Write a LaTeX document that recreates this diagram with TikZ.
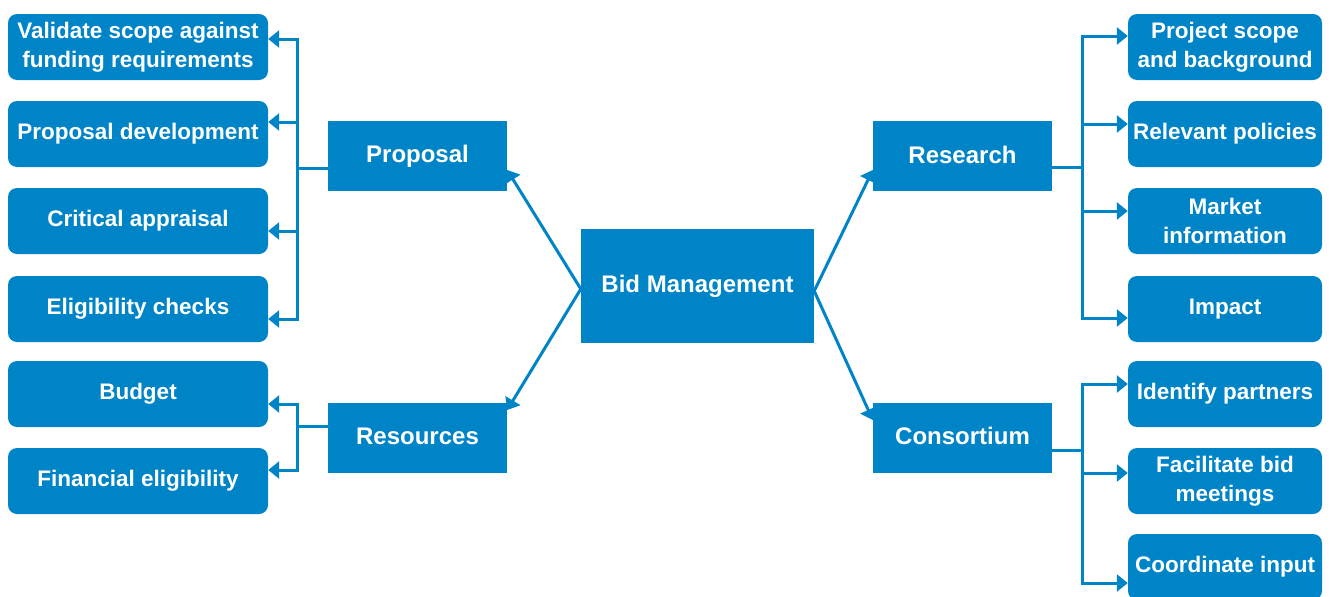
\documentclass[tikz,border=0pt]{standalone}
\usepackage{fontspec}
\setmainfont{Liberation Sans}
\usetikzlibrary{arrows.meta}
\definecolor{bblue}{RGB}{0,132,200}
\newcommand\upt[1]{\raisebox{2.5pt}{#1}}
\begin{document}
\begin{tikzpicture}[x=1pt,y=-1pt,
  leaf/.style={fill=bblue, rounded corners=9pt, minimum height=66pt, inner sep=0pt,
    text=white, font=\bfseries\fontsize{22.5}{28.5}\selectfont, align=center},
  lleaf/.style={leaf, minimum width=260pt},
  rleaf/.style={leaf, minimum width=194pt},
  mid/.style={fill=bblue, minimum width=179pt, minimum height=70pt, inner sep=0pt,
    text=white, font=\bfseries\fontsize{24}{29}\selectfont},
  ln/.style={draw=bblue, line width=3pt},
  arr/.style={ln, -{Triangle[length=11pt,width=17pt]}}]
\useasboundingbox (0,0) rectangle (1331,597);

% left leaves
\node[lleaf] (l1) at (138,47) {Validate scope against\\funding requirements};
\node[lleaf] (l2) at (138,134) {Proposal development};
\node[lleaf] (l3) at (138,221) {Critical appraisal};
\node[lleaf] (l4) at (138,309) {Eligibility checks};
\node[lleaf] (b1) at (138,394) {Budget};
\node[lleaf] (b2) at (138,481) {Financial eligibility};

% right leaves
\node[rleaf] (r1) at (1225,47) {Project scope\\and background};
\node[rleaf] (r2) at (1225,134) {Relevant policies};
\node[rleaf] (r3) at (1225,221) {Market\\information};
\node[rleaf] (r4) at (1225,309) {Impact};
\node[rleaf] (c1) at (1225,394) {Identify partners};
\node[rleaf] (c2) at (1225,481) {Facilitate bid\\meetings};
\node[rleaf] (c3) at (1225,567) {Coordinate input};

% middle nodes
\node[mid] (prop) at (417.5,156) {\upt{Proposal}};
\node[mid] (res) at (417.5,437.5) {\upt{Resources}};
\node[mid] (rsch) at (962.5,156) {\upt{Research}};
\node[mid] (cons) at (962.5,437.5) {\upt{Consortium}};
\node[mid, minimum width=233pt, minimum height=114pt] (bid) at (697.5,286) {\raisebox{4pt}{Bid Management}};

% junctions
\coordinate (jp) at (297,168);
\coordinate (jr) at (297,426);
\coordinate (jq) at (1082,167);
\coordinate (jc) at (1082,450);

\draw[ln] (prop.west |- jp) -- (jp);
\foreach \n/\y in {l1/39,l2/122,l3/231,l4/319}
  \draw[arr] (jp) |- (\n.east |- 0,\y);
\draw[ln] (res.west |- jr) -- (jr);
\foreach \n/\y in {b1/404,b2/470}
  \draw[arr] (jr) |- (\n.east |- 0,\y);
\draw[ln] (rsch.east |- jq) -- (jq);
\foreach \n/\y in {r1/36,r2/124,r3/211,r4/318}
  \draw[arr] (jq) |- (\n.west |- 0,\y);
\draw[ln] (cons.east |- jc) -- (jc);
\foreach \n/\y in {c1/384,c2/473,c3/583}
  \draw[arr] (jc) |- (\n.west |- 0,\y);

% center connectors
\draw[arr] (bid.west |- 0,289) -- (prop.east |- 0,170);
\draw[arr] (bid.west |- 0,289) -- (res.east |- 0,410);
\draw[arr] (bid.east |- 0,291) -- (rsch.west |- 0,170);
\draw[arr] (bid.east |- 0,291) -- (cons.west |- 0,420);
\end{tikzpicture}
\end{document}
